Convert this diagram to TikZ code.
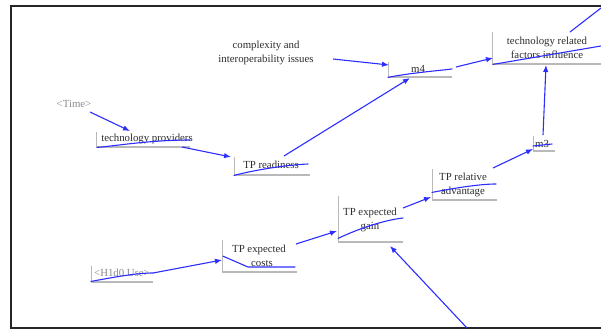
\documentclass[tikz,border=0pt]{standalone}
\usepackage{fontspec}
\setmainfont{Liberation Serif}
\usetikzlibrary{arrows.meta,calc}
\definecolor{linkblue}{RGB}{45,45,255}
\definecolor{ink}{RGB}{45,45,45}
\definecolor{shadowgray}{RGB}{185,185,185}
\definecolor{shadowtext}{RGB}{140,140,140}
\begin{document}
\begin{tikzpicture}[x=1pt,y=-1pt,
  lbl/.style={font=\fontsize{10.8}{14}\selectfont, text=ink, align=center, inner sep=0},
  shadowlbl/.style={lbl, text=shadowtext},
  vbox/.style={draw=none, inner sep=0, anchor=north west,
    path picture={\draw[shadowgray, line width=2.4pt]
      (path picture bounding box.north west) -- (path picture bounding box.south west)
      -- (path picture bounding box.south east);}},
  link/.style={draw=linkblue, line width=1.1pt, -{Latex[length=7pt,width=5.5pt]}},
  strike/.style={draw=linkblue, line width=1.1pt, line cap=round},
]
\useasboundingbox (0,0) rectangle (601,331);
\fill[white] (0,0) rectangle (601,331);

% outer frame (open on the right)
\draw[black!85, line width=2.2pt] (601,6) -- (11,6) -- (11,328) -- (601,328);

% variable boxes (shadow corners)
\node[vbox, minimum width=94pt, minimum height=15pt] (provbox) at (96,132) {};
\node[vbox, minimum width=76pt, minimum height=18pt] (readbox) at (234,157) {};
\node[vbox, minimum width=64pt, minimum height=15pt] (m4box) at (388,62) {};
\node[vbox, minimum width=112pt, minimum height=32pt] (techbox) at (492,32) {};
\node[vbox, minimum width=22pt, minimum height=15pt] (m3box) at (533,136) {};
\node[vbox, minimum width=65pt, minimum height=31pt] (advbox) at (432,169) {};
\node[vbox, minimum width=65pt, minimum height=46pt] (gainbox) at (338,196) {};
\node[vbox, minimum width=75pt, minimum height=32pt] (costbox) at (222,240) {};
\node[vbox, minimum width=62pt, minimum height=16pt] (usebox) at (91,266) {};

% labels
\node[lbl] (cplx) at (266,53) {complexity and\\interoperability issues};
\node[lbl] (m4) at (418,69) {m4};
\node[lbl] (tech) at (547,48) {technology related\\factors influence};
\node[shadowlbl] (time) at (74,104) {<Time>};
\node[lbl] (prov) at (147,139) {technology providers};
\node[lbl] (ready) at (271,165) {TP readiness};
\node[lbl] (m3) at (542,144) {m3};
\node[lbl] (adv) at (463,185) {TP relative\\advantage};
\node[lbl] (gain) at (370,220) {TP expected\\gain};
\node[lbl] (costs) at (259,256) {TP expected\\\hspace*{6pt}costs};
\node[shadowlbl] (use) at (122,273) {<H1d0 Use>};

% connector end points
\coordinate (time-o) at (90,112);
\coordinate (prov-i) at (130,131);
\coordinate (prov-o) at (182,147);
\coordinate (ready-i) at (231,157);
\coordinate (ready-o) at (284,156);
\coordinate (m4-ib) at (410,78);
\coordinate (cplx-o) at (333,59);
\coordinate (m4-ia) at (389,65);
\coordinate (m4-o) at (456,67);
\coordinate (tech-ia) at (493,58);
\coordinate (tech-ib) at (546,65);
\coordinate (m3-o) at (543,135);
\coordinate (m3-i) at (533,149);
\coordinate (adv-o) at (493,168);
\coordinate (adv-i) at (431,197);
\coordinate (gain-o) at (403,208);
\coordinate (gain-ia) at (337,231);
\coordinate (gain-ib) at (390,246);
\coordinate (costs-o) at (296,244);
\coordinate (costs-i) at (222,260);
\coordinate (use-o) at (153,273);
\coordinate (ext-top) at (601,8);
\coordinate (ext-tech) at (570,32);
\coordinate (ext-bottom) at (467,328);

% causal links
\draw[link] (time-o) -- (prov-i);
\draw[link] (prov-o) -- (ready-i);
\draw[link] (ready-o) -- (m4-ib);
\draw[link] (cplx-o) -- (m4-ia);
\draw[link] (m4-o) -- (tech-ia);
\draw[link] (m3-o) -- (tech-ib);
\draw[link] (adv-o) -- (m3-i);
\draw[link] (gain-o) -- (adv-i);
\draw[link] (costs-o) -- (gain-ia);
\draw[link] (use-o) -- (costs-i);
\draw[link] (ext-bottom) -- (gain-ib);
\draw[strike] (ext-top) -- (ext-tech);

% link stubs crossing the variable names
\draw[strike] (provbox.south west) ++(1,0) .. controls (115,146) and (150,140) .. (190,140);
\draw[strike] (readbox.south west) .. controls (255,170) and (285,165) .. (308,164);
\draw[strike] (m4box.south west) .. controls (410,73) and (435,71) .. (452,69);
\draw[strike] (techbox.south west) ++(1,0) -- (601,46);
\draw[strike] (533,146) -- (552,144);
\draw[strike] (advbox.south west) ++(0,-8) .. controls (455,188) and (480,184) .. (496,184);
\draw[strike] (gainbox.south west) ++(0,-4) .. controls (360,228) and (385,220) .. (403,218);
\draw[strike] (costbox.west) ++(1,0) -- (248,267) -- (295,267);
\draw[strike] (usebox.south west) ++(0,-1) .. controls (110,278) and (135,273) .. (use-o);
\end{tikzpicture}
\end{document}
